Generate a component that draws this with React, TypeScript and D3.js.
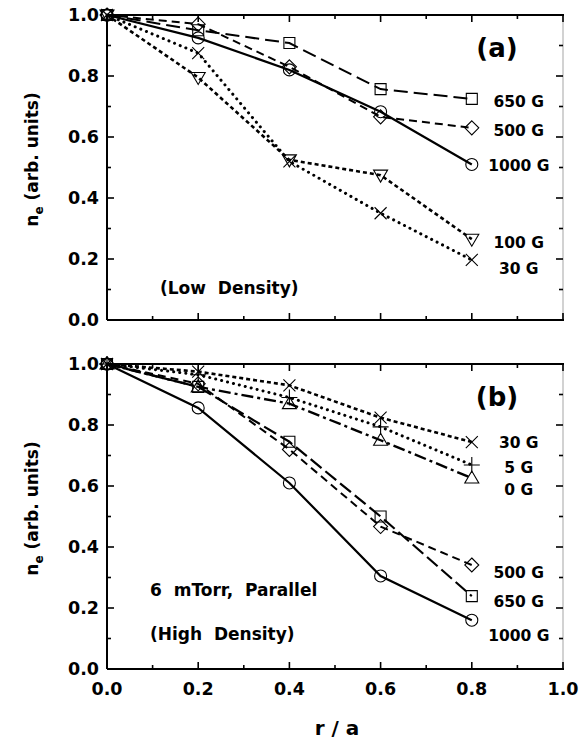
import React from 'react';
import * as d3 from 'd3';

// ---- data ----
const radius = [0, 0.2, 0.4, 0.6, 0.8];

// panel (a) low density
const a650 = [1.0, 0.95, 0.908, 0.757, 0.725];
const a500 = [1.0, 0.97, 0.83, 0.666, 0.63];
const a1000 = [1.0, 0.925, 0.82, 0.683, 0.51];
const a100 = [1.0, 0.795, 0.525, 0.475, 0.265];
const a30 = [1.0, 0.875, 0.52, 0.35, 0.197];

// panel (b) high density
const b30 = [1.0, 0.975, 0.93, 0.824, 0.744];
const b5 = [1.0, 0.965, 0.89, 0.794, 0.669];
const b0 = [1.0, 0.925, 0.87, 0.75, 0.626];
const b500 = [1.0, 0.935, 0.72, 0.467, 0.341];
const b650 = [1.0, 0.925, 0.745, 0.5, 0.239];
const b1000 = [1.0, 0.856, 0.61, 0.305, 0.16];

const seriesNamesA = ['650 G', '500 G', '1000 G', '100 G', '30 G'];
const seriesNamesB = ['30 G', '5 G', '0 G', '500 G', '650 G', '1000 G'];

const xTicks = [0, 0.2, 0.4, 0.6, 0.8, 1.0];
const yTicks = [0, 0.2, 0.4, 0.6, 0.8, 1.0];

// ---- style / layout ----
const FONT = '"DejaVu Sans", sans-serif';
const W = 582, H = 743;
const X0 = 107, X1 = 563;

type Style = { dash: string; width: number; marker: string; cap?: string };

const stylesA: Style[] = [
  { dash: '14,6', width: 2, marker: 'square' },
  { dash: '8,5', width: 2, marker: 'diamond' },
  { dash: '', width: 2.2, marker: 'circle' },
  { dash: '4,3', width: 2.6, marker: 'triDown' },
  { dash: '0.1,6', width: 3, marker: 'x', cap: 'round' },
];
const stylesB: Style[] = [
  { dash: '4,3', width: 2.6, marker: 'x' },
  { dash: '0.1,6', width: 3, marker: 'plus', cap: 'round' },
  { dash: '12,4,3,4', width: 2.4, marker: 'triUp' },
  { dash: '8,5', width: 2, marker: 'diamond' },
  { dash: '14,5', width: 2.2, marker: 'square' },
  { dash: '', width: 2.2, marker: 'circle' },
];
// label anchor (data units) for each curve's text at right
const labelYA = [0.718, 0.623, 0.508, 0.256, 0.17];
const labelYB = [0.744, 0.662, 0.59, 0.318, 0.22, 0.111];
const LABEL_X = 0.903;

function markerPath(type: string, cx: number, cy: number): string {
  const s = 6;
  switch (type) {
    case 'circle':
      return `M${cx - s},${cy}a${s},${s} 0 1,0 ${2 * s},0a${s},${s} 0 1,0 ${-2 * s},0Z`;
    case 'square':
      return `M${cx - 5.5},${cy - 5.5}h11v11h-11Z`;
    case 'diamond':
      return `M${cx},${cy - 7}L${cx + 7},${cy}L${cx},${cy + 7}L${cx - 7},${cy}Z`;
    case 'triDown':
      return `M${cx - 7},${cy - 5}L${cx + 7},${cy - 5}L${cx},${cy + 7}Z`;
    case 'triUp':
      return `M${cx - 7},${cy + 5}L${cx + 7},${cy + 5}L${cx},${cy - 7}Z`;
    case 'x':
      return `M${cx - 6},${cy - 6}L${cx + 6},${cy + 6}M${cx - 6},${cy + 6}L${cx + 6},${cy - 6}`;
    case 'plus':
      return `M${cx - 8},${cy}L${cx + 8},${cy}M${cx},${cy - 8}L${cx},${cy + 8}`;
  }
  return '';
}

type PanelProps = {
  top: number;
  bottom: number;
  series: number[][];
  styles: Style[];
  names: string[];
  labelY: number[];
  tag: string;
  showXLabels: boolean;
  notes: { text: string; x: number; y: number }[];
};

function Panel({ top, bottom, series, styles, names, labelY, tag, showXLabels, notes }: PanelProps) {
  const x = d3.scaleLinear().domain([0, 1]).range([X0, X1]);
  const y = d3.scaleLinear().domain([0, 1]).range([bottom, top]);
  const minor = d3.range(0, 1.0001, 0.1);
  const line = d3
    .line<number>()
    .x((_, i) => x(radius[i]))
    .y((d) => y(d));
  const tickLen = (v: number) => (Math.abs(Math.round(v * 10) % 2) === 0 ? 7 : 4);

  return (
    <g>
      {/* frame */}
      <line x1={X0} x2={X1 + 1} y1={bottom} y2={bottom} stroke="#000" strokeWidth={2} />
      <line x1={X0} x2={X1 + 1} y1={top} y2={top} stroke="#000" strokeWidth={2} />
      <line x1={X0} x2={X0} y1={top} y2={bottom} stroke="#000" strokeWidth={2} />
      <line x1={X1} x2={X1} y1={top} y2={bottom} stroke="#000" strokeWidth={1} opacity={0.35} />
      {minor.map((v, i) => (
        <g key={'t' + i}>
          <line x1={x(v)} x2={x(v)} y1={bottom} y2={bottom - tickLen(v)} stroke="#000" strokeWidth={1.6} />
          <line x1={x(v)} x2={x(v)} y1={top} y2={top + tickLen(v)} stroke="#000" strokeWidth={1.6} />
          <line x1={X0} x2={X0 + tickLen(v)} y1={y(v)} y2={y(v)} stroke="#000" strokeWidth={1.6} />
          <line x1={X1} x2={X1 - tickLen(v)} y1={y(v)} y2={y(v)} stroke="#000" strokeWidth={1.6} />
        </g>
      ))}
      {yTicks.map((v) => (
        <text
          key={'yl' + v}
          x={99}
          y={y(v)}
          dy="0.36em"
          textAnchor="end"
          fontFamily={FONT}
          fontWeight="bold"
          fontSize={17.5}
        >
          {v.toFixed(1)}
        </text>
      ))}
      {showXLabels &&
        xTicks.map((v) => (
          <text
            key={'xl' + v}
            x={x(v)}
            y={bottom + 26}
            textAnchor="middle"
            fontFamily={FONT}
            fontWeight="bold"
            fontSize={17.5}
          >
            {v.toFixed(1)}
          </text>
        ))}
      {/* y label */}
      <text
        transform={`translate(38,${(top + bottom) / 2 - 8}) rotate(-90)`}
        textAnchor="middle"
        fontFamily={FONT}
        fontWeight="bold"
        fontSize={17}
      >
        n<tspan fontSize={12} dy={5}>e</tspan>
        <tspan dy={-5}> (arb. units)</tspan>
      </text>
      {/* series */}
      {series.map((s, k) => (
        <g key={'s' + k}>
          <path
            d={line(s) || ''}
            fill="none"
            stroke="#000"
            strokeWidth={styles[k].width}
            strokeDasharray={styles[k].dash || undefined}
            strokeLinecap={(styles[k].cap as any) || 'butt'}
          />
          {s.map((v, i) => (
            <path
              key={i}
              d={markerPath(styles[k].marker, x(radius[i]), y(v))}
              fill="none"
              stroke="#000"
              strokeWidth={1.1}
            />
          ))}
          <text
            x={x(LABEL_X)}
            y={y(labelY[k])}
            dy="0.36em"
            textAnchor="middle"
            fontFamily={FONT}
            fontWeight="bold"
            fontSize={15.5}
          >
            {names[k]}
          </text>
        </g>
      ))}
      <text x={497} y={top + 33} dy="0.36em" textAnchor="middle" fontFamily={FONT} fontWeight="bold" fontSize={26}>
        {tag}
      </text>
      {notes.map((n, i) => (
        <text
          key={'n' + i}
          x={n.x}
          y={n.y}
          fontFamily={FONT}
          fontWeight="bold"
          fontSize={17}
          style={{ whiteSpace: 'pre' }}
        >
          {n.text}
        </text>
      ))}
    </g>
  );
}

export default function App() {
  return (
    <svg
      width={W}
      height={H}
      viewBox={`0 0 ${W} ${H}`}
      style={{ position: 'absolute', left: 0, top: 0, background: '#fff' }}
    >
      <rect width={W} height={H} fill="#fff" />
      <Panel
        top={15}
        bottom={320}
        series={[a650, a500, a1000, a100, a30]}
        styles={stylesA}
        names={seriesNamesA}
        labelY={labelYA}
        tag="(a)"
        showXLabels={false}
        notes={[{ text: '(Low  Density)', x: 160, y: 294 }]}
      />
      <Panel
        top={364}
        bottom={669}
        series={[b30, b5, b0, b500, b650, b1000]}
        styles={stylesB}
        names={seriesNamesB}
        labelY={labelYB}
        tag="(b)"
        showXLabels={true}
        notes={[
          { text: '6  mTorr,  Parallel', x: 150, y: 596 },
          { text: '(High  Density)', x: 150, y: 640 },
        ]}
      />
      <text x={337} y={735} textAnchor="middle" fontFamily={FONT} fontWeight="bold" fontSize={20}>
        r / a
      </text>
    </svg>
  );
}
